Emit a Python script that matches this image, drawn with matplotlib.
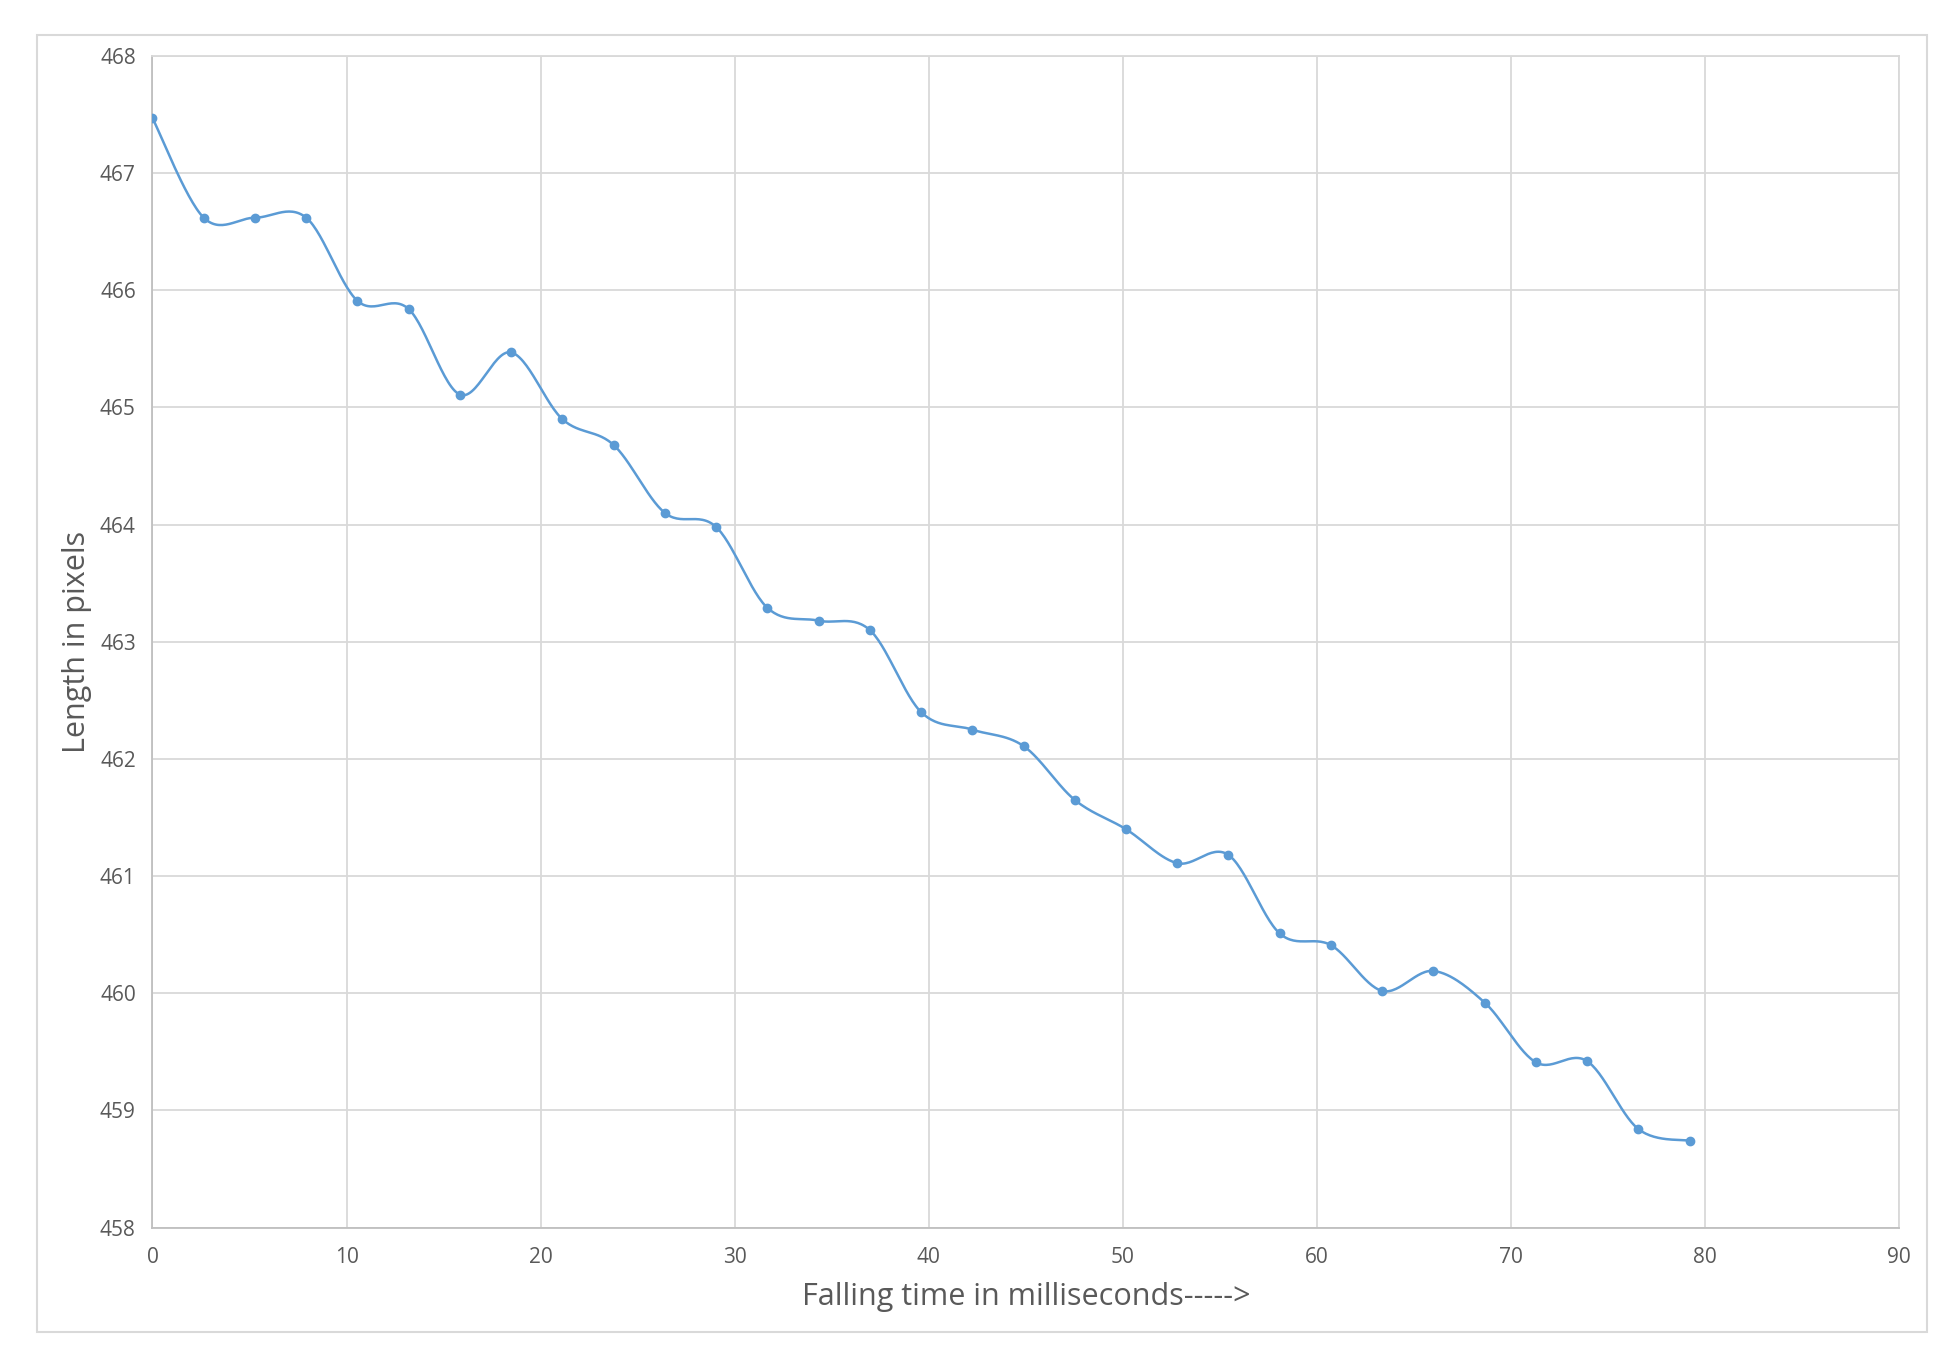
import numpy as np
import matplotlib
matplotlib.use("Agg")
import matplotlib.pyplot as plt
from matplotlib.patches import Rectangle

# falling time (ms) and measured length (px)
time_ms = [0, 2.64, 5.28, 7.92, 10.56, 13.2, 15.84, 18.48, 21.12, 23.76,
           26.4, 29.04, 31.68, 34.32, 36.96, 39.6, 42.24, 44.88, 47.52, 50.16,
           52.8, 55.44, 58.08, 60.72, 63.36, 66.0, 68.64, 71.28, 73.92, 76.56, 79.2]
length_px = [467.47, 466.62, 466.62, 466.62, 465.91, 465.84, 465.11, 465.47, 464.90, 464.68,
             464.10, 463.98, 463.29, 463.18, 463.10, 462.40, 462.25, 462.11, 461.65, 461.40,
             461.11, 461.18, 460.51, 460.41, 460.02, 460.19, 459.92, 459.41, 459.42, 458.84, 458.74]

x_ticks = [0, 10, 20, 30, 40, 50, 60, 70, 80, 90]
y_ticks = [458, 459, 460, 461, 462, 463, 464, 465, 466, 467, 468]

BLUE = "#5B9BD5"
GRID = "#D9D9D9"
TEXT = "#595959"

plt.rcParams['font.family'] = ['Open Sans', 'DejaVu Sans']


def smooth_curve(x, y, steps=30):
    # Excel-like smoothed line: cubic Bezier segments, tangents from neighbours
    x = np.asarray(x, float)
    y = np.asarray(y, float)
    n = len(x)
    xs, ys = [], []
    for i in range(n - 1):
        p0 = np.array([x[max(i - 1, 0)], y[max(i - 1, 0)]])
        p1 = np.array([x[i], y[i]])
        p2 = np.array([x[i + 1], y[i + 1]])
        p3 = np.array([x[min(i + 2, n - 1)], y[min(i + 2, n - 1)]])
        c1 = p1 + (p2 - p0) / 6.0
        c2 = p2 - (p3 - p1) / 6.0
        t = np.linspace(0, 1, steps, endpoint=(i == n - 2))[:, None]
        pts = ((1 - t) ** 3) * p1 + 3 * ((1 - t) ** 2) * t * c1 + 3 * (1 - t) * t ** 2 * c2 + t ** 3 * p2
        xs.append(pts[:, 0])
        ys.append(pts[:, 1])
    return np.concatenate(xs), np.concatenate(ys)


fig = plt.figure(figsize=(19.6, 13.63), dpi=100)
ax = fig.add_axes([0.0778, 0.0994, 0.8912, 0.8595])

# outer chart border
fig.patches.append(Rectangle((0.019, 0.023), 0.964, 0.951, transform=fig.transFigure,
                             fill=False, edgecolor=GRID, linewidth=1.5))

sx, sy = smooth_curve(time_ms, length_px)
ax.plot(sx, sy, color=BLUE, linewidth=1.8, zorder=3)
ax.plot(time_ms, length_px, 'o', color=BLUE, markersize=6, zorder=4)

ax.set_xlim(0, 90)
ax.set_ylim(458, 468)
ax.set_xticks(x_ticks)
ax.set_yticks(y_ticks)
ax.grid(True, color=GRID, linewidth=1.3)
ax.set_axisbelow(True)
for s in ax.spines.values():
    s.set_color(GRID)
    s.set_linewidth(1.3)
ax.spines['left'].set_color("#BFBFBF")
ax.spines['bottom'].set_color("#BFBFBF")
ax.tick_params(length=0, labelsize=15, labelcolor=TEXT)
ax.tick_params(axis='y', pad=12)
ax.tick_params(axis='x', pad=14)

ax.set_xlabel("Falling time in milliseconds----->", fontsize=22, color=TEXT, labelpad=10)
ax.set_ylabel("Length in pixels", fontsize=22, color=TEXT, labelpad=6)

fig.savefig("out.png", dpi=100, facecolor="white")
